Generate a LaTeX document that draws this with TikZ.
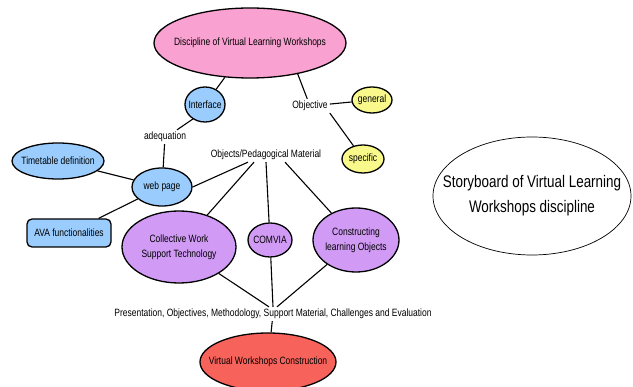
\documentclass[tikz,border=0pt]{standalone}
\usepackage{fontspec}
\setmainfont{Liberation Sans}[FakeStretch=0.8]
\usetikzlibrary{shapes.geometric}

\definecolor{discpink}{HTML}{F9A1D0}
\definecolor{webblue}{HTML}{9ACDFD}
\definecolor{objyellow}{HTML}{F9F98B}
\definecolor{matpurple}{HTML}{D19BF5}
\definecolor{buildred}{HTML}{F7635B}

\tikzset{
    bubble/.style={ellipse, draw=black, line width=1.3pt, inner sep=0pt},
    note/.style={inner sep=2pt, align=center, font=\fontsize{10.6}{15}\selectfont},
    link/.style={draw=black, line width=1.1pt},
}

\begin{document}
\begin{tikzpicture}[x=1pt, y=-1pt]
    \useasboundingbox (0,0) rectangle (633,387);
    % top of the map
    \node[bubble, fill=discpink, minimum width=192pt, minimum height=70pt,
        label={[note]center:Discipline of Virtual Learning Workshops}] (disc) at (250,43) {};
    \node[bubble, fill=webblue, minimum width=40pt, minimum height=35pt,
        label={[note]center:Interface}] (iface) at (205,104.5) {};
    \node[note] (adeq) at (165,137) {adequation};
    \node[note] (obj) at (310,106) {Objective};
    \node[bubble, fill=objyellow, minimum width=40pt, minimum height=26pt,
        label={[note]center:general}] (gen) at (372,100) {};
    \node[bubble, fill=objyellow, minimum width=42pt, minimum height=28pt,
        label={[note]center:specific}] (spec) at (363,159) {};
    % web page branch
    \node[bubble, fill=webblue, minimum width=92pt, minimum height=36pt,
        label={[note]center:Timetable definition}] (time) at (58,161) {};
    \node[bubble, fill=webblue, minimum width=60pt, minimum height=38pt,
        label={[note]center:web page}] (web) at (162,187) {};
    \node[draw=black, line width=1.3pt, rounded corners=5pt, fill=webblue,
        minimum width=84pt, minimum height=28pt, inner sep=0pt,
        font=\fontsize{10.6}{15}\selectfont] (ava) at (69,233) {AVA functionalities};
    % material branch
    \node[note] (mat) at (266,155) {Objects/Pedagogical Material};
    \node[bubble, fill=matpurple, minimum width=114pt, minimum height=72pt,
        label={[note]center:Collective Work\\Support Technology}] (coll) at (179,247) {};
    \node[bubble, fill=matpurple, minimum width=44pt, minimum height=34pt,
        label={[note]center:COMVIA}] (comv) at (270,240) {};
    \node[bubble, fill=matpurple, minimum width=86pt, minimum height=64pt,
        label={[note]center:Constructing\\learning Objects}] (cons) at (356,240) {};
    \node[note] (pres) at (273,314)
        {Presentation, Objectives, Methodology, Support Material, Challenges and Evaluation};
    \node[bubble, fill=buildred, minimum width=136pt, minimum height=58pt,
        label={[note]center:Virtual Workshops Construction}] (virt) at (268,362) {};
    % title
    \node[ellipse, draw=black, line width=0.7pt, minimum width=198pt, minimum height=118pt,
        inner sep=0pt, label={[align=center, font=\fontsize{16.8}{25}\selectfont]center:Storyboard of Virtual Learning\\Workshops discipline}] (story) at (532,196) {};

    % connectors
    \draw[link] (disc) -- (iface);
    \draw[link] (disc.-33) -- (obj);
    \draw[link] (obj) -- (gen);
    \draw[link] (obj.south east) -- (spec);
    \draw[link] (iface.-130) -- ([xshift=12pt]adeq.north);
    \draw[link] (adeq) -- (web);
    \draw[link] (time) -- (web);
    \draw[link] (web) -- (ava);
    \draw[link] (web.east) -- ([xshift=-18pt]mat.south);
    \draw[link] ([xshift=-12pt]mat.south) -- (coll);
    \draw[link] (mat.south) -- (comv);
    \draw[link] ([xshift=19pt]mat.south) -- (cons);
    \draw[link] (coll) -- ([xshift=-4pt]pres.north);
    \draw[link] (comv) -- (pres.north);
    \draw[link] (cons) -- ([xshift=4pt]pres.north);
    \draw[link] (pres) -- (virt);
\end{tikzpicture}
\end{document}
